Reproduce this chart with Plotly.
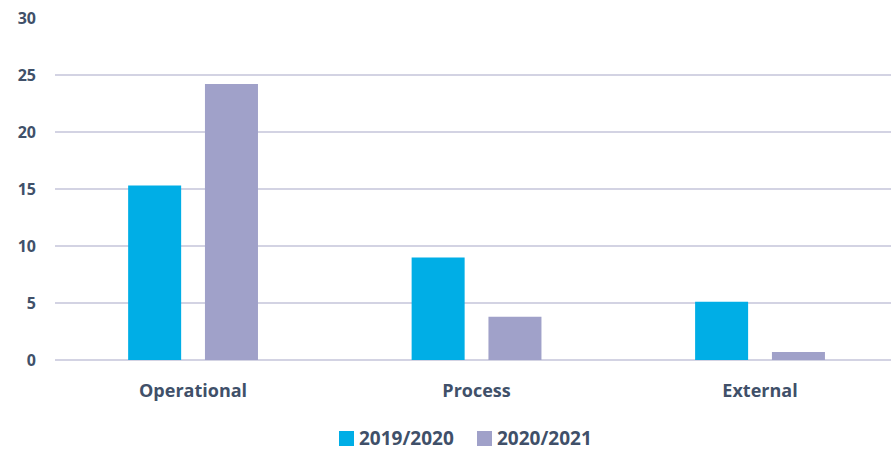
import plotly.graph_objects as go

categories = ["Operational", "Process", "External"]
series_names = ["2019/2020", "2020/2021"]
values_2019_2020 = [15.3, 9.0, 5.1]
values_2020_2021 = [24.2, 3.8, 0.7]
y_ticks = [0, 5, 10, 15, 20, 25, 30]

colors = ["#00AEE6", "#A0A1C9"]
text_color = "#405069"
font_family = "'Open Sans', sans-serif"
grid_color = "#D3D3E3"

bar_width = 0.187
bar_offsets = [-0.229, 0.042]

# plot area in pixels, used to place the hand-drawn legend below the axis
W, H = 891, 451
ML, MR, MT, MB = 55, 0, 18, 91
pw, ph = W - ML - MR, H - MT - MB


def px_x(x):
    return (x - ML) / pw


def px_y(y):
    return (H - MB - y) / ph


fig = go.Figure()
for name, vals, col, off in zip(series_names, [values_2019_2020, values_2020_2021], colors, bar_offsets):
    fig.add_trace(go.Bar(
        x=categories, y=vals, name=name,
        width=bar_width, offset=off,
        marker=dict(color=col, line=dict(width=0)),
        showlegend=False,
    ))

# legend: a colour square followed by the series name
legend_left = [339, 477]
for name, col, lx in zip(series_names, colors, legend_left):
    fig.add_shape(
        type="rect", xref="paper", yref="paper",
        x0=px_x(lx), x1=px_x(lx + 15), y0=px_y(446), y1=px_y(431),
        fillcolor=col, line=dict(width=0), layer="above",
    )
    fig.add_annotation(
        xref="paper", yref="paper", x=px_x(lx + 19), y=px_y(438),
        xanchor="left", yanchor="middle", showarrow=False, text=name,
        borderpad=0,
        font=dict(size=19, family=font_family, color=text_color, weight="bold"),
    )

fig.update_layout(
    width=W, height=H,
    margin=dict(l=ML, r=MR, t=MT, b=MB, autoexpand=False),
    paper_bgcolor="white", plot_bgcolor="white",
    barmode="overlay",
    font=dict(family=font_family, color=text_color, size=16),
    showlegend=False,
    xaxis=dict(
        range=[-0.487, 2.462], showgrid=False, showline=False, zeroline=False,
        ticks="", tickfont=dict(size=18, weight="bold"), ticklabelstandoff=18,
    ),
    yaxis=dict(
        range=[0, 30], tickvals=y_ticks, showgrid=True, gridcolor=grid_color,
        gridwidth=2, zeroline=True, zerolinecolor=grid_color, zerolinewidth=2,
        showline=False, ticks="", ticklabelstandoff=18,
        tickfont=dict(size=16, weight="bold"),
    ),
)

fig.write_html("out.html")
